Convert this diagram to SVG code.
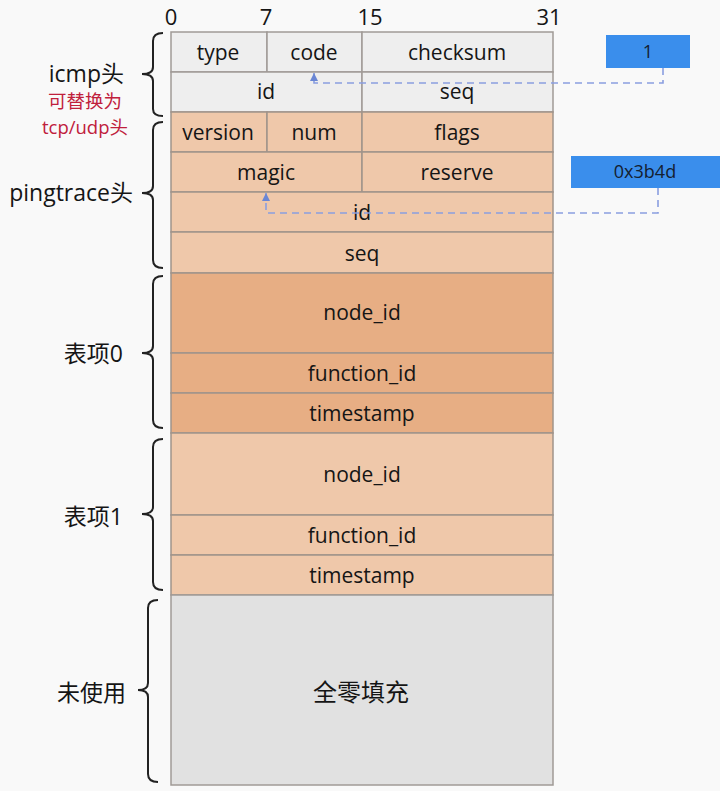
<svg xmlns="http://www.w3.org/2000/svg" width="720" height="791" viewBox="0 0 720 791">
<style>
.t{font-family:"Open Sans","Liberation Sans","Noto Sans CJK SC",sans-serif;font-size:21px;fill:#151515;text-anchor:middle}
.lab{font-family:"Open Sans","Noto Sans CJK SC",sans-serif;font-size:23px;fill:#151515;text-anchor:end}
.red{font-family:"Open Sans","Noto Sans CJK SC",sans-serif;font-size:18.5px;fill:#c0203c;text-anchor:end}
.g{fill:#eeeeee;stroke:#a09a96;stroke-width:1.5}
.o{fill:#efc8aa;stroke:#a0948a;stroke-width:1.5}
.d{fill:#e7ae84;stroke:#a0948a;stroke-width:1.5}
.z{fill:#e1e1e1;stroke:#a09a96;stroke-width:1.5}
.br{fill:none;stroke:#222;stroke-width:2}
.blue{fill:#3a8eec}
.bt{font-family:"Open Sans","Liberation Sans",sans-serif;font-size:18px;fill:#142030;text-anchor:middle}
.dash{fill:none;stroke:#8a9ee0;stroke-width:1.6;stroke-dasharray:7 5}
</style>
<defs>
<marker id="ah" viewBox="0 0 10 10" refX="10" refY="5" markerWidth="5" markerHeight="5" orient="auto">
<path d="M0,0 L10,5 L0,10 z" fill="#6a86d4"/>
</marker>
</defs>
<rect width="720" height="791" fill="#f9f9f9"/>

<g id="bits">
<text class="t" x="171" y="25" style="font-size:22px">0</text>
<text class="t" x="266" y="25" style="font-size:22px">7</text>
<text class="t" x="370" y="25" style="font-size:22px">15</text>
<text class="t" x="549" y="25" style="font-size:22px">31</text>
</g>

<g id="icmp">
<rect class="g" x="171" y="32" width="96" height="40"/><text class="t" x="218" y="60">type</text>
<rect class="g" x="267" y="32" width="95" height="40"/><text class="t" x="314" y="60">code</text>
<rect class="g" x="362" y="32" width="191" height="40"/><text class="t" x="457" y="60">checksum</text>
<rect class="g" x="171" y="72" width="191" height="40"/><text class="t" x="266" y="99">id</text>
<rect class="g" x="362" y="72" width="191" height="40"/><text class="t" x="457" y="99">seq</text>
</g>

<g id="pingtrace">
<rect class="o" x="171" y="112" width="96" height="40"/><text class="t" x="218" y="140">version</text>
<rect class="o" x="267" y="112" width="95" height="40"/><text class="t" x="314" y="140">num</text>
<rect class="o" x="362" y="112" width="191" height="40"/><text class="t" x="457" y="140">flags</text>
<rect class="o" x="171" y="152" width="191" height="40"/><text class="t" x="266" y="180">magic</text>
<rect class="o" x="362" y="152" width="191" height="40"/><text class="t" x="457" y="180">reserve</text>
<rect class="o" x="171" y="192" width="382" height="40"/><text class="t" x="362" y="220">id</text>
<rect class="o" x="171" y="232" width="382" height="41"/><text class="t" x="362" y="261">seq</text>
</g>

<g id="entry0">
<rect class="d" x="171" y="273" width="382" height="80"/><text class="t" x="362" y="320">node_id</text>
<rect class="d" x="171" y="353" width="382" height="40"/><text class="t" x="362" y="381">function_id</text>
<rect class="d" x="171" y="393" width="382" height="40"/><text class="t" x="362" y="421">timestamp</text>
</g>

<g id="entry1">
<rect class="o" x="171" y="433" width="382" height="82"/><text class="t" x="362" y="482">node_id</text>
<rect class="o" x="171" y="515" width="382" height="40"/><text class="t" x="362" y="543">function_id</text>
<rect class="o" x="171" y="555" width="382" height="40"/><text class="t" x="362" y="583">timestamp</text>
</g>

<g id="unused">
<rect class="z" x="171" y="595" width="382" height="190"/>
<text class="t" x="361" y="701" style="font-size:24px">全零填充</text>
</g>

<g id="labels">
<path class="br" d="M163,33 Q153,33 153,41 V67 Q153,74 142,74 Q153,74 153,81 V109 Q153,116 163,116"/>
<text class="lab" x="124" y="82">icmp头</text>
<text class="red" x="122" y="108">可替换为</text>
<text class="red" x="128" y="134">tcp/udp头</text>
<path class="br" d="M163,122 Q153,122 153,130 V186 Q153,193 142,193 Q153,193 153,200 V260 Q153,268 163,268"/>
<text class="lab" x="133" y="201">pingtrace头</text>
<path class="br" d="M163,276 Q153,276 153,284 V346 Q153,353 142,353 Q153,353 153,360 V420 Q153,428 163,428"/>
<text class="lab" x="123" y="362">表项0</text>
<path class="br" d="M163,439 Q153,439 153,447 V507 Q153,514 142,514 Q153,514 153,521 V582 Q153,590 163,590"/>
<text class="lab" x="123" y="525">表项1</text>
<path class="br" d="M158,600 Q148,600 148,608 V683 Q148,690 138,690 Q148,690 148,697 V774 Q148,782 158,782"/>
<text class="lab" x="126" y="701">未使用</text>
</g>

<g id="val1">
<rect class="blue" x="606" y="35" width="84" height="33"/>
<text class="bt" x="648" y="58">1</text>
</g>
<g id="val2">
<rect class="blue" x="571" y="156" width="152" height="32"/>
<text class="bt" x="645" y="178">0x3b4d</text>
</g>

<g id="connectors">
<path class="dash" d="M663,68 V83 H314 V73" marker-end="url(#ah)"/>
<path class="dash" d="M658,188 V213 H266 V193" marker-end="url(#ah)"/>
</g>
</svg>
